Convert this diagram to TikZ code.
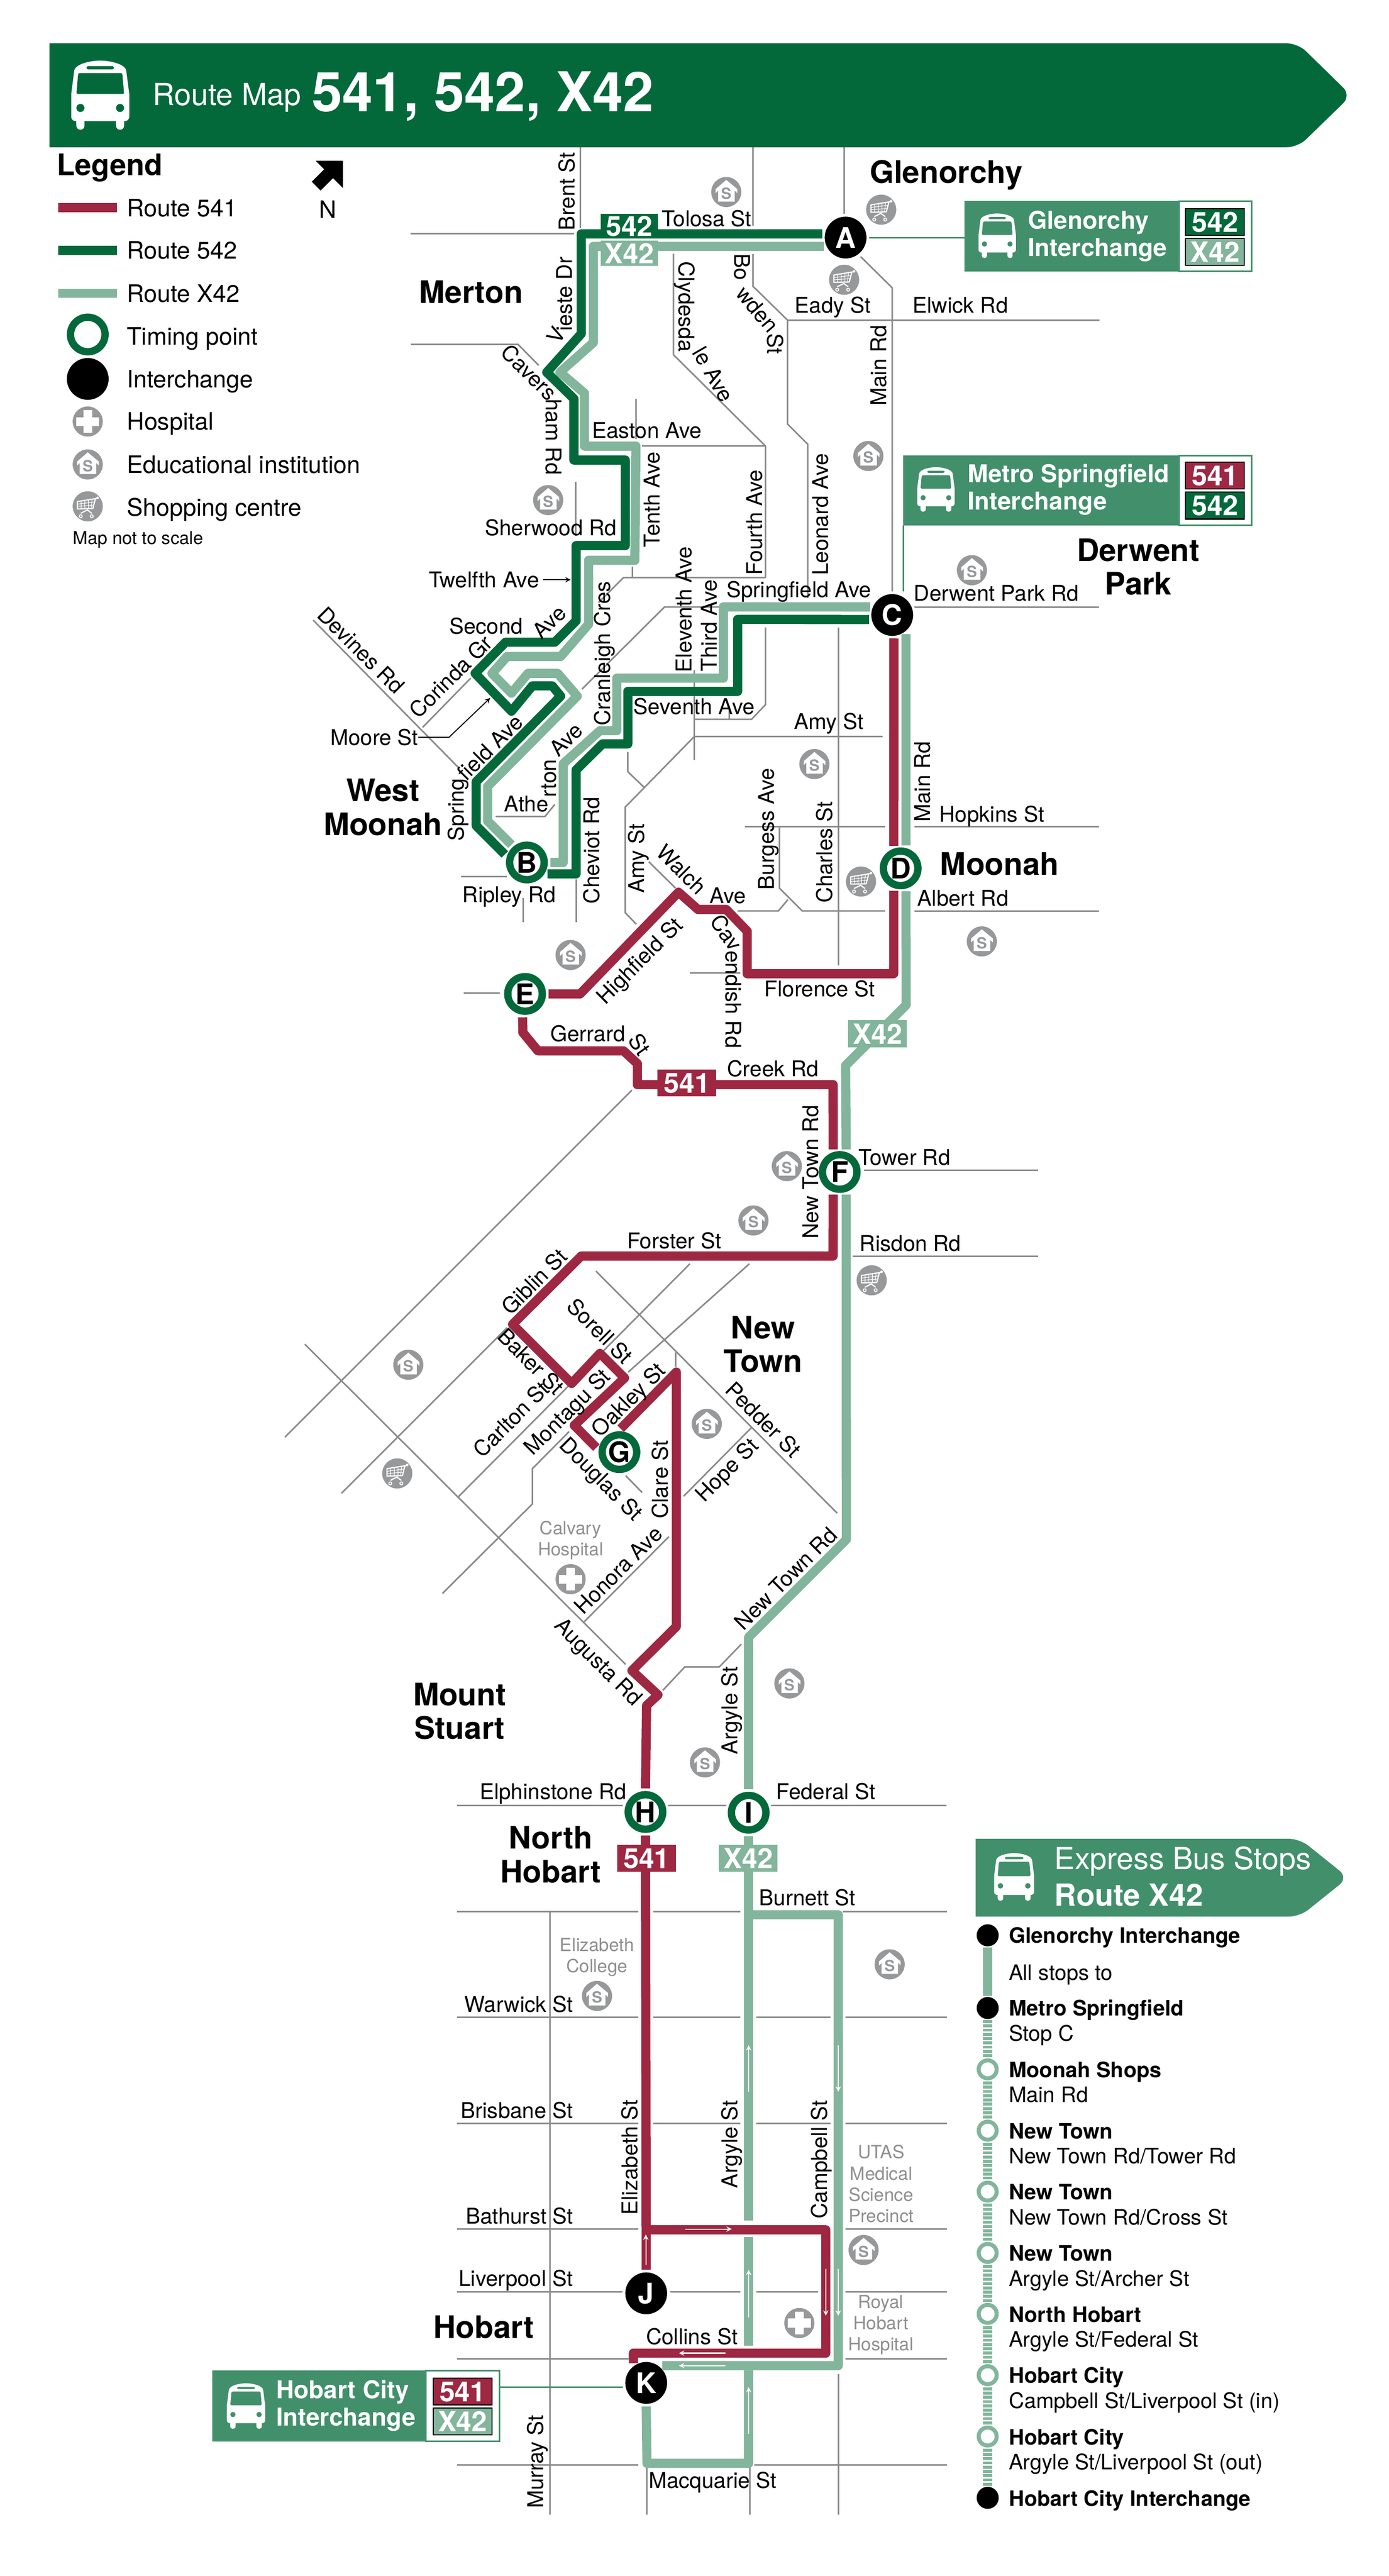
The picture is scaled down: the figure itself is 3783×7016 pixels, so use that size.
\documentclass[tikz,border=0pt]{standalone}
\usepackage{fontspec}
\setmainfont{TeX Gyre Heros}
\definecolor{c541}{HTML}{9E2742}
\definecolor{c542}{HTML}{03693A}
\definecolor{cX42}{HTML}{82B59B}
\definecolor{cPanel}{HTML}{41906B}
\definecolor{cRoad}{HTML}{8A8A8A}
\definecolor{cIcon}{HTML}{97989A}
\definecolor{cNote}{HTML}{8F8F8F}
\tikzset{
  road/.style={draw=cRoad, line width=1.2pt},
  route/.style={line width=7.1pt, line join=round},
  r541/.style={route, draw=c541},
  r542/.style={route, draw=c542},
  rX42/.style={route, draw=cX42},
  flow/.style={draw=white, line width=0.85pt, ->},
  link/.style={draw=cPanel, line width=1.2pt},
  roadlabel/.style={inner sep=0pt, font=\fontsize{16.8}{20}\selectfont, text height=12pt, text depth=0pt},
  suburb/.style={inner sep=0pt, font=\fontsize{24}{26}\selectfont\bfseries, text height=17pt, text depth=0pt},
  note/.style={inner sep=0pt, align=center, text=cNote, font=\fontsize{14}{16.5}\selectfont},
  legendtext/.style={anchor=west, inner sep=0pt, font=\fontsize{18.6}{22}\selectfont, text height=13.4pt, text depth=0pt},
  stoptext/.style={anchor=west, inner sep=0pt, font=\fontsize{16.5}{20}\selectfont, text height=12pt, text depth=0pt},
  stopbold/.style={stoptext, font=\fontsize{16.5}{20}\selectfont\bfseries},
  timing/.style={circle, inner sep=0pt, minimum size=.94cm, outer sep=.17cm, fill=white, draw=c542, line width=.2cm,
    preaction={draw=white, line width=.34cm}, font=\fontsize{22}{24}\selectfont\bfseries},
  interchange/.style={circle, inner sep=0pt, minimum size=1.21cm, outer sep=.035cm, fill=black, draw=white, line width=.07cm,
    text=white, font=\fontsize{22}{24}\selectfont\bfseries},
  badge/.style={inner sep=0pt, text=white, font=\fontsize{21.5}{24}\selectfont\bfseries, text height=15.5pt, text depth=0pt},
  panelbadge/.style={badge, draw=black, line width=.9pt, minimum width=1.6cm, minimum height=.73cm},
  panel/.style={fill=cPanel, draw=cPanel, inner sep=0pt},
  panelbox/.style={fill=white, draw=cPanel, line width=1.2pt, inner sep=0pt},
  paneltext/.style={anchor=west, inner sep=0pt, align=left, text=white, font=\fontsize{19}{21.3}\selectfont\bfseries},
  stopdot/.style={circle, fill=black, inner sep=0pt, minimum size=.6cm, outer sep=.03cm},
  stopring/.style={circle, fill=white, draw=cX42, line width=.11cm, inner sep=0pt, minimum size=.49cm, outer sep=.085cm},
  pics/bus/.style={code={
    \fill[white] (-71,-65) .. controls (-70,-85) and (-25,-94) .. (0,-94) .. controls (25,-94) and (70,-85) .. (71,-65)
      -- (79,-3) -- (79,58) .. controls (79,68) and (72,71) .. (65,71) -- (65,83) .. controls (65,98) and (43,98) .. (43,83)
      -- (43,71) -- (-43,71) -- (-43,83) .. controls (-43,98) and (-65,98) .. (-65,83) -- (-65,71)
      .. controls (-72,71) and (-79,68) .. (-79,58) -- (-79,-3) -- cycle;
    \fill[#1, rounded corners=.04cm] (-60,-60) -- (60,-60) -- (65,-3) -- (-65,-3) -- cycle;
    \fill[#1, rounded corners=.04cm] (-37,-79) rectangle (37,-70);
    \fill[#1] (-54,35) circle [radius=11];
    \fill[#1] (54,35) circle [radius=11];
  }},
  pics/eduicon/.style={code={
    \fill[cIcon] (0,0) circle [radius=41];
    \fill[white] (0,-33) -- (30,-8) -- (30,3) -- (23,-4) -- (23,26) -- (-22,26) -- (-22,-4) -- (-29,3) -- (-29,-8) -- cycle;
    \node[inner sep=0pt, text=cIcon, font=\fontsize{12}{12}\selectfont\bfseries] (s) at (0,4) {S};
  }},
  pics/hospicon/.style={code={
    \fill[cIcon] (0,0) circle [radius=41];
    \fill[white] (-12,-31) rectangle (12,31);
    \fill[white] (-31,-12) rectangle (31,12);
  }},
  pics/carticon/.style={code={
    \fill[cIcon] (0,0) circle [radius=41];
    \draw[white, line width=.9pt, line join=round] (-28,-13) -- (21,-21) -- (14,6) -- (-28,7) -- cycle;
    \draw[white, line width=.45pt] (-28,-6) -- (19,-12) (-28,0) -- (16,-3) (-18,-15) -- (-18,7) (-8,-16) -- (-8,7) (2,-18) -- (2,6) (12,-19) -- (9,6);
    \draw[white, line width=.9pt] (21,-21) -- (27,-23);
    \fill[white] (27,-23) circle [radius=3.5];
    \draw[white, line width=.9pt] (-19,19) -- (-1,10) -- (11,19);
    \draw[white, line width=.7pt] (-19,27) circle [radius=4];
    \draw[white, line width=.7pt] (11,27) circle [radius=4];
  }}
}
\begin{document}
\begin{tikzpicture}[>=stealth, x=0.01cm, y=-0.01cm]
\useasboundingbox (0,0) rectangle (3783,7016);
% header
\fill[c542] (135,401) -- (135,118) [rounded corners=.3cm] -- (3535,118) -- (3680,260) -- (3535,401) [sharp corners] -- cycle;
\pic at (273,259) {bus=c542};
\node[anchor=west, inner sep=0pt, text=white, font=\fontsize{23.6}{26}\selectfont] (titleA) at (415,266) {Route Map};
\node[anchor=west, inner sep=0pt, text=white, font=\fontsize{42.5}{46}\selectfont\bfseries] (titleB) at (849,262) {541, 542, X42};
% legend
\node[anchor=west, inner sep=0pt, font=\fontsize{23}{26}\selectfont\bfseries] (legend) at (154,457) {Legend};
\draw[r541] (159,566) -- (318,566);
\draw[r542] (159,682) -- (318,682);
\draw[rX42] (159,799) -- (318,799);
\node[legendtext] (leg541) at (345,566) {Route 541};
\node[legendtext] (leg542) at (345,682) {Route 542};
\node[legendtext] (legX42) at (345,799) {Route X42};
\node[timing, preaction={}] (legTiming) at (239,911) {};
\node[interchange] (legInter) at (239,1032) {};
\pic at (239,1148) {hospicon};
\pic at (239,1265) {eduicon};
\pic at (239,1379) {carticon};
\node[legendtext] (txtTiming) at (345,916) {Timing point};
\node[legendtext] (txtInter) at (345,1033) {Interchange};
\node[legendtext] (txtHosp) at (345,1148) {Hospital};
\node[legendtext] (txtEdu) at (345,1265) {Educational institution};
\node[legendtext] (txtShop) at (345,1382) {Shopping centre};
\node[anchor=west, inner sep=0pt, font=\fontsize{13.8}{16}\selectfont] (txtScale) at (198,1470) {Map not to scale};
\fill[black] (860,438) -- (934,438) -- (934,512) -- (907,485) -- (873,519) -- (849,495) -- (883,461) -- cycle;
\node[legendtext, anchor=center] (north) at (893,571) {N};
% roads, north
\draw[road] (1580,401) -- (1580,622);
\draw[road] (1119,636) -- (1563,636);
\draw[road] (2051,401) -- (2051,615);
\draw[road] (2299,401) -- (2299,582);
\draw[road] (2051,692) -- (2051,780) -- (2145,872) -- (2145,1155) -- (2200,1210) -- (2200,1629);
\draw[road] (2344,699) -- (2430,784) -- (2430,1612);
\draw[road] (2142,872) -- (2994,872);
\draw[road] (1834,691) -- (1834,966) -- (2085,1215) -- (2085,1573);
\draw[road] (1749,1215) -- (2085,1215);
\draw[road] (1732,1086) -- (1732,1195);
\draw[road] (1119,938) -- (1411,938) -- (1467,995);
\draw[road] (1568,1312) -- (1568,1459);
\draw[road] (1722,1544) -- (1722,1573);
\draw[road] (1630,1641) -- (1698,1573) -- (2085,1573);
\draw[road] (1970,1653) -- (1810,1653) -- (1585,1877);
\draw[road] (2085,1709) -- (2085,1919) -- (2047,1959) -- (1891,1959);
\draw[road] (1986,1923) -- (1986,1959);
\draw[road] (1891,1825) -- (1891,2070);
\draw[road] (2404,2006) -- (1891,2006) -- (1703,2198) -- (1703,2486) -- (1733,2517);
\draw[road] (1710,2048) -- (1710,2102) -- (1756,2146);
\draw[road] (2283,1709) -- (2283,2629);
\draw[road] (2029,2252) -- (2411,2252);
\draw[road] (2491,2252) -- (2993,2252);
\draw[road] (2123,2254) -- (2123,2419) -- (2185,2481) -- (2411,2481);
\draw[road] (2491,2481) -- (2993,2481);
\draw[road] (2009,2481) -- (2120,2481) -- (2146,2450);
\draw[road] (2488,1653) -- (2993,1653);
\draw[road] (853,1689) -- (1251,2093);
\draw[road] (1282,1847) -- (1151,1981);
\draw[road] (1350,2224) -- (1484,2224) -- (1511,2191);
\draw[road] (1256,2388) -- (1381,2388);
\draw[road] (1425,2446) -- (1425,2511);
\draw[road] (1569,2395) -- (1569,2511);
\draw[road] (1767,2347) -- (1840,2419);
\draw[road] (1879,2650) -- (2016,2650);
\draw[road] (1263,2704) -- (1361,2704);
% roads, middle
\draw[road] (2353,3188) -- (2828,3188);
\draw[road] (2322,3421) -- (2828,3421);
\draw[road] (1721,2969) -- (776,3914);
\draw[road] (830,3661) -- (1704,4533);
\draw[road] (1381,3616) -- (930,4067);
\draw[road] (1879,3442) -- (1249,4076);
\draw[road] (2041,3442) -- (1711,3737);
\draw[road] (1550,3899) -- (1450,4000) -- (1450,4096) -- (1205,4340);
\draw[road] (1623,3462) -- (2280,4121);
\draw[road] (1840,3683) -- (1840,3723);
\draw[road] (1704,4019) -- (1749,4065);
\draw[road] (2046,3889) -- (1862,4075);
\draw[road] (1822,4185) -- (1591,4417);
\draw[road] (1805,4604) -- (1865,4540) -- (1959,4540) -- (2019,4478);
\draw[road] (1244,4917) -- (2578,4917);
% roads, south
\draw[road] (1245,5206) -- (1739,5206);
\draw[road] (1779,5206) -- (2017,5206);
\draw[road] (2295,5206) -- (2579,5206);
\draw[road] (1245,5494) -- (1739,5494);
\draw[road] (1779,5494) -- (2017,5494);
\draw[road] (2060,5494) -- (2262,5494);
\draw[road] (2303,5494) -- (2579,5494);
\draw[road] (1245,5783) -- (1739,5783);
\draw[road] (1779,5783) -- (2017,5783);
\draw[road] (2060,5783) -- (2262,5783);
\draw[road] (2303,5783) -- (2579,5783);
\draw[road] (1245,6071) -- (1739,6071);
\draw[road] (2303,6071) -- (2579,6071);
\draw[road] (1245,6242) -- (1695,6242);
\draw[road] (1826,6242) -- (2017,6242);
\draw[road] (2060,6242) -- (2228,6242);
\draw[road] (2303,6242) -- (2579,6242);
\draw[road] (1245,6425) -- (1712,6425);
\draw[road] (2303,6425) -- (2579,6425);
\draw[road] (1245,6714) -- (1739,6714);
\draw[road] (2054,6714) -- (2579,6714);
\draw[road] (1498,5206) -- (1498,6849);
\draw[road] (1762,6711) -- (1762,6849);
\draw[road] (2042,6711) -- (2042,6849);
\draw[road] (2283,6466) -- (2283,6849);
% stops on the routes
\node[interchange] (nA) at (2303,647) {A};
\node[timing] (nB) at (1435,2349) {B};
\node[interchange] (nC) at (2430,1675) {C};
\node[timing] (nD) at (2453,2365) {D};
\node[timing] (nE) at (1430,2707) {E};
\node[timing] (nF) at (2287,3192) {F};
\node[timing] (nG) at (1687,3955) {G};
\node[timing] (nH) at (1758,4935) {H};
\node[timing] (nI) at (2039,4937) {I};
\node[interchange] (nJ) at (1760,6246) {J};
\node[interchange] (nK) at (1760,6490) {K};
% route X42
\draw[rX42] (nA.202) -- (1616,671) -- (1616,933) -- (1525,1014) -- (1592,1071) -- (1592,1215) -- (1732,1215) -- (1729,1526) -- (1603,1526) -- (1603,1700) -- (1527,1788) -- (1381,1788) -- (1340,1834) -- (1393,1888) -- (1438,1834) -- (1519,1834) -- (1572,1896) -- (1328,2142) -- (1328,2236) -- (nB.131);
\draw[rX42] (nB.east) -- (1534,2349) -- (1534,2080) -- (1634,1990) -- (1680,1990) -- (1680,1847) -- (1970,1847) -- (1970,1653) -- (nC.160);
\draw[rX42] (nC.306) -- (nD.77);
\draw[rX42] (nD.283) -- (2468,2737) -- (2303,2902) -- (nF.74);
\draw[rX42] (nF.286) -- (2305,4193) -- (2039,4459) -- (nI.north);
\draw[rX42] (nI.south) -- (2039,6048);
\draw[rX42] (2039,6093) -- (2039,6389);
\draw[rX42] (2039,6456) -- (2039,6709) -- (1762,6709) -- (nK.south);
\draw[rX42] (2039,5215) -- (2283,5215) -- (2283,6443) -- (nK.47);
% route 542
\draw[r542] (nA.171) -- (1583,637) -- (1583,909) -- (1489,1014) -- (1563,1086) -- (1563,1253) -- (1703,1253) -- (1703,1486) -- (1569,1486) -- (1569,1691) -- (1511,1749) -- (1377,1749) -- (1294,1834) -- (1393,1937) -- (1450,1868) -- (1504,1868) -- (1527,1896) -- (1297,2129) -- (1297,2249) -- (nB.160);
\draw[r542] (nB.331) -- (1569,2380) -- (1569,2097) -- (1641,2026) -- (1710,2026) -- (1710,1883) -- (2009,1883) -- (2009,1687) -- (nC.191);
% route 541
\draw[r541] (nC.274) -- (nD.107);
\draw[r541] (nD.253) -- (2434,2652) -- (2035,2652) -- (2035,2536) -- (1978,2477) -- (1901,2477) -- (1848,2430) -- (1580,2707) -- (nE.east);
\draw[r541] (nE.264) -- (1424,2812) -- (1465,2862) -- (1698,2862) -- (1736,2897) -- (1736,2954) -- (2269,2954) -- (nF.106);
\draw[r541] (nF.254) -- (2269,3421) -- (1583,3421) -- (1396,3607) -- (1557,3768) -- (1634,3686) -- (1701,3753) -- (1564,3882) -- (nG.169);
\draw[r541] (nG.87) -- (1842,3737) -- (1842,4430) -- (1721,4550) -- (1792,4616) -- (1761,4645) -- (nH.north);
\draw[r541] (nH.south) -- (nJ.north);
\draw[r541] (1759,6073) -- (2249,6073) -- (2249,6409) -- (1725,6409) -- (nK.123);
% direction arrows
\draw[flow] (2039,5697) -- (2039,5570);
\draw[flow] (2039,6312) -- (2039,6182);
\draw[flow] (2039,6628) -- (2039,6501);
\draw[flow] (2283,5570) -- (2283,5697);
\draw[flow] (2283,6179) -- (2283,6307);
\draw[flow] (2249,6179) -- (2249,6307);
\draw[flow] (1759,6169) -- (1759,6086);
\draw[flow] (1866,6071) -- (1993,6071);
\draw[flow] (1976,6409) -- (1849,6409);
\draw[flow] (1976,6443) -- (1849,6443);
% route badges
\node[badge, fill=c542, minimum width=1.57cm, minimum height=.68cm] (tag542) at (1714,616) {542};
\node[badge, fill=cX42, minimum width=1.57cm, minimum height=.69cm] (tagX42a) at (1714,690) {X42};
\node[badge, fill=c541, minimum width=1.6cm, minimum height=.73cm] (tag541a) at (1871,2950) {541};
\node[badge, fill=cX42, minimum width=1.6cm, minimum height=.74cm] (tagX42b) at (2390,2816) {X42};
\node[badge, fill=c541, minimum width=1.6cm, minimum height=.73cm] (tag541b) at (1761,5061) {541};
\node[badge, fill=cX42, minimum width=1.6cm, minimum height=.73cm] (tagX42c) at (2038,5061) {X42};
% interchange panels
\node[panel, minimum width=7.82cm, minimum height=1.91cm] (glenPanel) at (3018,643.5) {};
\node[panelbox, minimum width=1.98cm, minimum height=1.91cm] (glenBox) at (3310,643.5) {};
\pic[scale=.645] at (2716,642) {bus=cPanel};
\node[paneltext] (glenText) at (2799,643) {Glenorchy\\Interchange};
\node[panelbadge, fill=c542] (glen542) at (3309,604.5) {542};
\node[panelbadge, fill=cX42] (glenX42) at (3309,686) {X42};
\draw[link] (nA.east) -- (nA.east -| glenPanel.west);
\node[panel, minimum width=9.48cm, minimum height=1.89cm] (metroPanel) at (2935,1335.5) {};
\node[panelbox, minimum width=1.98cm, minimum height=1.89cm] (metroBox) at (3310,1335.5) {};
\pic[scale=.645] at (2549,1333) {bus=cPanel};
\node[paneltext] (metroText) at (2635,1334) {Metro Springfield\\Interchange};
\node[panelbadge, fill=c541] (metro541) at (3309,1295.5) {541};
\node[panelbadge, fill=c542] (metro542) at (3309,1377) {542};
\draw[link] (metroPanel.south west) -- (metroPanel.south west |- nC.north);
\node[panel, minimum width=7.82cm, minimum height=1.92cm] (cityPanel) at (970,6553) {};
\node[panelbox, minimum width=2.01cm, minimum height=1.92cm] (cityBox) at (1260.5,6553) {};
\pic[scale=.66] at (670,6553) {bus=cPanel};
\node[paneltext] (cityText) at (752,6552) {Hobart City\\Interchange};
\node[panelbadge, fill=c541] (city541) at (1260,6514) {541};
\node[panelbadge, fill=cX42] (cityX42) at (1260,6595) {X42};
\draw[link] (cityPanel.east |- nK.190) -- (nK.190);
% suburbs
\node[suburb] (subGlen) at (2577,469) {Glenorchy};
\node[suburb] (subMerton) at (1283,796) {Merton};
\node[suburb] (subDer1) at (3100,1499) {Derwent};
\node[suburb] (subDer2) at (3100,1590) {Park};
\node[suburb] (subWest1) at (1043,2153) {West};
\node[suburb] (subWest2) at (1043,2245) {Moonah};
\node[suburb, anchor=west] (subMoonah) at (2560,2354) {Moonah};
\node[suburb] (subNew1) at (2078,3616) {New};
\node[suburb] (subNew2) at (2078,3708) {Town};
\node[suburb] (subMt1) at (1252,4616) {Mount};
\node[suburb] (subMt2) at (1252,4707) {Stuart};
\node[suburb] (subNH1) at (1500,5006) {North};
\node[suburb] (subNH2) at (1500,5098) {Hobart};
\node[suburb] (subHobart) at (1317,6339) {Hobart};
% street names, north
\node[roadlabel, rotate=90] (lblBrent) at (1544,521) {Brent St};
\node[roadlabel, anchor=west] (lblTolosa) at (1802,595) {Tolosa St};
\node[roadlabel, anchor=west] (lblEady) at (2164,832) {Eady St};
\node[roadlabel, anchor=west] (lblElwick) at (2485,832) {Elwick Rd};
\node[roadlabel, rotate=60] (lblViesteA) at (1515,913) {V};
\node[roadlabel, rotate=90] (lblViesteB) at (1537,801) {ieste Dr};
\node[roadlabel, rotate=-45] (lblCavA) at (1441,1014) {Cavers};
\node[roadlabel, rotate=-90] (lblCavB) at (1508,1190) {ham Rd};
\node[roadlabel, rotate=-90] (lblClydeA) at (1870,835) {Clydesda};
\node[roadlabel, rotate=-60] (lblClydeB) at (1943,1020) {le Ave};
\node[roadlabel, rotate=-90] (lblBowA) at (2022,727) {Bo};
\node[roadlabel, rotate=-50] (lblBowB) at (2063,842) {wden};
\node[roadlabel, rotate=-90] (lblBowC) at (2111,937) {St};
\node[roadlabel, rotate=90] (lblMainA) at (2393,995) {Main Rd};
\node[roadlabel, anchor=west] (lblEaston) at (1612,1172) {Easton Ave};
\node[roadlabel, rotate=90] (lblTenth) at (1775,1361) {Tenth Ave};
\node[roadlabel, rotate=90] (lblFourth) at (2055,1423) {Fourth Ave};
\node[roadlabel, rotate=90] (lblLeonard) at (2234,1401) {Leonard Ave};
\node[roadlabel, anchor=west] (lblSherwood) at (1320,1437) {Sherwood Rd};
\node[roadlabel, anchor=west] (lblTwelfth) at (1167,1579) {Twelfth Ave};
\draw[->, line width=.8pt] (lblTwelfth.east) ++(10,0) -- (1554,1579);
\node[roadlabel, anchor=west] (lblSpringAve) at (1978,1606) {Springfield Ave};
\node[roadlabel, anchor=west] (lblDerwent) at (2488,1615) {Derwent Park Rd};
\node[roadlabel, rotate=90] (lblEleventh) at (1863,1660) {Eleventh Ave};
\node[roadlabel, rotate=90] (lblThird) at (1932,1704) {Third Ave};
\node[roadlabel, rotate=90] (lblCranleigh) at (1641,1780) {Cranleigh Cres};
\node[roadlabel, anchor=west] (lblSecondA) at (1223,1706) {Second};
\node[roadlabel, rotate=45] (lblSecondB) at (1496,1694) {Ave};
\node[roadlabel, rotate=45] (lblCorinda) at (1228,1843) {Corinda Gr};
\node[roadlabel, rotate=-45] (lblDevines) at (983,1771) {Devines Rd};
\node[roadlabel, anchor=west] (lblMoore) at (899,2008) {Moore St};
\draw[->, line width=.8pt] (lblMoore.east) -- (1223,2008) -- (1335,1901);
\node[roadlabel, rotate=90] (lblSpringA) at (1243,2205) {Spring};
\node[roadlabel, rotate=45] (lblSpringB) at (1335,2035) {field Ave};
\node[roadlabel, anchor=west] (lblSeventh) at (1725,1925) {Seventh Ave};
\node[roadlabel, anchor=west] (lblAmyA) at (2162,1965) {Amy St};
\node[roadlabel, rotate=90] (lblAmyB) at (1733,2338) {Amy St};
\node[roadlabel, anchor=west] (lblAthA) at (1373,2189) {Athe};
\node[roadlabel, rotate=90] (lblAthB) at (1493,2120) {rton};
\node[roadlabel, rotate=45] (lblAthC) at (1542,2014) {Ave};
\node[roadlabel, rotate=90] (lblCheviot) at (1611,2316) {Cheviot Rd};
\node[roadlabel, anchor=west] (lblRipley) at (1259,2437) {Ripley Rd};
\node[roadlabel, rotate=-45] (lblWalchA) at (1856,2368) {Walch};
\node[roadlabel, anchor=west] (lblWalchB) at (1932,2439) {Ave};
\node[roadlabel, rotate=90] (lblBurgess) at (2087,2258) {Burgess Ave};
\node[roadlabel, rotate=90] (lblCharles) at (2246,2321) {Charles St};
\node[roadlabel, rotate=90] (lblMainB) at (2512,2129) {Main Rd};
\node[roadlabel, anchor=west] (lblHopkins) at (2558,2218) {Hopkins St};
\node[roadlabel, anchor=west] (lblAlbert) at (2498,2447) {Albert Rd};
% street names, middle
\node[roadlabel, rotate=-55] (lblCavendA) at (1978,2540) {Cav};
\node[roadlabel, rotate=-90] (lblCavendB) at (1998,2722) {endish Rd};
\node[roadlabel, rotate=45] (lblHighfield) at (1741,2616) {Highfield St};
\node[roadlabel, anchor=west] (lblFlorence) at (2081,2694) {Florence St};
\node[roadlabel, anchor=west] (lblGerrardA) at (1499,2815) {Gerrard};
\node[roadlabel, rotate=-55] (lblGerrardB) at (1741,2844) {St};
\node[roadlabel, anchor=west] (lblCreek) at (1980,2911) {Creek Rd};
\node[roadlabel, rotate=90] (lblNewTown) at (2208,3192) {New Town Rd};
\node[roadlabel, anchor=west] (lblTower) at (2338,3152) {Tower Rd};
\node[roadlabel, anchor=west] (lblRisdon) at (2341,3387) {Risdon Rd};
\node[roadlabel, anchor=west] (lblForster) at (1707,3380) {Forster St};
\node[roadlabel, rotate=45] (lblGiblin) at (1455,3491) {Giblin St};
\node[roadlabel, rotate=-45] (lblBaker) at (1446,3708) {Baker St};
\node[roadlabel, rotate=-45] (lblSorell) at (1634,3625) {Sorell St};
\node[roadlabel, rotate=45] (lblCarlton) at (1392,3866) {Carlton St};
\node[roadlabel, rotate=45] (lblMontagu) at (1544,3845) {Montagu St};
\node[roadlabel, rotate=45] (lblOakley) at (1711,3812) {Oakley St};
\node[roadlabel, rotate=-45] (lblDouglas) at (1638,4027) {Douglas St};
\node[roadlabel, rotate=90] (lblClare) at (1798,4030) {Clare St};
\node[roadlabel, rotate=45] (lblHope) at (1979,4003) {Hope St};
\node[roadlabel, rotate=-45] (lblPedder) at (2079,3866) {Pedder St};
\node[roadlabel, rotate=45] (lblHonora) at (1684,4276) {Honora Ave};
\node[roadlabel, rotate=-45] (lblAugusta) at (1631,4525) {Augusta Rd};
\node[roadlabel, rotate=45] (lblNewTownB) at (2140,4299) {New Town Rd};
\node[roadlabel, rotate=90] (lblArgyleA) at (1988,4659) {Argyle St};
\node[roadlabel, anchor=east] (lblElphin) at (1707,4879) {Elphinstone Rd};
\node[roadlabel, anchor=west] (lblFederal) at (2113,4879) {Federal St};
% street names, south
\node[roadlabel, anchor=west] (lblBurnett) at (2067,5168) {Burnett St};
\node[roadlabel, anchor=east] (lblWarwick) at (1561,5459) {Warwick St};
\node[roadlabel, anchor=east] (lblBrisbane) at (1561,5748) {Brisbane St};
\node[roadlabel, anchor=east] (lblBathurst) at (1561,6036) {Bathurst St};
\node[roadlabel, anchor=east] (lblLiverpool) at (1561,6205) {Liverpool St};
\node[roadlabel, anchor=west] (lblCollins) at (1759,6364) {Collins St};
\node[roadlabel, anchor=west] (lblMacquarie) at (1766,6756) {Macquarie St};
\node[roadlabel, rotate=90] (lblMurray) at (1459,6705) {Murray St};
\node[roadlabel, rotate=90] (lblElizabeth) at (1715,5876) {Elizabeth St};
\node[roadlabel, rotate=90] (lblArgyleB) at (1988,5840) {Argyle St};
\node[roadlabel, rotate=90] (lblCampbell) at (2232,5882) {Campbell St};
% places
\node[note] (noteCalvary) at (1554,4195) {Calvary\\Hospital};
\node[note] (noteCollege) at (1626,5331) {Elizabeth\\College};
\node[note] (noteUtas) at (2400,5948) {UTAS\\Medical\\Science\\Precinct};
\node[note] (noteRoyal) at (2399,6332) {Royal\\Hobart\\Hospital};
\pic at (1554,4301) {hospicon};
\pic at (2177,6327) {hospicon};
\pic at (1978,523) {eduicon};
\pic at (2365,1242) {eduicon};
\pic at (1493,1362) {eduicon};
\pic at (2647,1553) {eduicon};
\pic at (2218,2081) {eduicon};
\pic at (2674,2564) {eduicon};
\pic at (1554,2601) {eduicon};
\pic at (2143,3176) {eduicon};
\pic at (2052,3324) {eduicon};
\pic at (1112,3717) {eduicon};
\pic at (1925,3878) {eduicon};
\pic at (2150,4585) {eduicon};
\pic at (1920,4800) {eduicon};
\pic at (1626,5436) {eduicon};
\pic at (2423,5350) {eduicon};
\pic at (2352,6128) {eduicon};
\pic at (2400,571) {carticon};
\pic at (2299,762) {carticon};
\pic at (2345,2401) {carticon};
\pic at (2374,3487) {carticon};
\pic at (1082,4013) {carticon};
% express stops
\fill[cPanel] (2657,5220) -- (2657,5008) [rounded corners=.3cm] -- (3540,5008) -- (3672,5114) -- (3540,5220) [sharp corners] -- cycle;
\pic[scale=.69] at (2762,5112) {bus=cPanel};
\node[anchor=west, inner sep=0pt, text=white, font=\fontsize{23.6}{26}\selectfont] (expressA) at (2871,5070) {Express Bus Stops};
\node[anchor=west, inner sep=0pt, text=white, font=\fontsize{23.6}{26}\selectfont\bfseries] (expressB) at (2871,5161) {Route X42};
\node[stopdot] (st0) at (2690,5271) {};
\node[stopdot] (st1) at (2690,5469) {};
\node[stopring] (st2) at (2690,5636) {};
\node[stopring] (st3) at (2690,5803) {};
\node[stopring] (st4) at (2690,5969) {};
\node[stopring] (st5) at (2690,6136) {};
\node[stopring] (st6) at (2690,6302) {};
\node[stopring] (st7) at (2690,6469) {};
\node[stopring] (st8) at (2690,6636) {};
\node[stopdot] (st9) at (2690,6803) {};
\draw[rX42] (st0) -- (st1);
\draw[rX42, dash pattern=on 2.3pt off 1pt] (st1) -- (st2);
\draw[rX42, dash pattern=on 2.3pt off 1pt] (st2) -- (st3);
\draw[rX42, dash pattern=on 2.3pt off 1pt] (st3) -- (st4);
\draw[rX42, dash pattern=on 2.3pt off 1pt] (st4) -- (st5);
\draw[rX42, dash pattern=on 2.3pt off 1pt] (st5) -- (st6);
\draw[rX42, dash pattern=on 2.3pt off 1pt] (st6) -- (st7);
\draw[rX42, dash pattern=on 2.3pt off 1pt] (st7) -- (st8);
\draw[rX42, dash pattern=on 2.3pt off 1pt] (st8) -- (st9);
\node[stopbold] (stA) at (2747,5271) {Glenorchy Interchange};
\node[stoptext] (stB) at (2747,5372) {All stops to};
\node[stopbold] (stC) at (2747,5469) {Metro Springfield};
\node[stoptext] (stD) at (2747,5538) {Stop C};
\node[stopbold] (stE) at (2747,5637) {Moonah Shops};
\node[stoptext] (stF) at (2747,5705) {Main Rd};
\node[stopbold] (stG) at (2747,5804) {New Town};
\node[stoptext] (stH) at (2747,5871) {New Town Rd/Tower Rd};
\node[stopbold] (stI) at (2747,5970) {New Town};
\node[stoptext] (stJ) at (2747,6038) {New Town Rd/Cross St};
\node[stopbold] (stK) at (2747,6137) {New Town};
\node[stoptext] (stL) at (2747,6205) {Argyle St/Archer St};
\node[stopbold] (stM) at (2747,6304) {North Hobart};
\node[stoptext] (stN) at (2747,6371) {Argyle St/Federal St};
\node[stopbold] (stO) at (2747,6470) {Hobart City};
\node[stoptext] (stP) at (2747,6538) {Campbell St/Liverpool St (in)};
\node[stopbold] (stQ) at (2747,6637) {Hobart City};
\node[stoptext] (stR) at (2747,6705) {Argyle St/Liverpool St (out)};
\node[stopbold] (stS) at (2747,6804) {Hobart City Interchange};
\end{tikzpicture}
\end{document}
